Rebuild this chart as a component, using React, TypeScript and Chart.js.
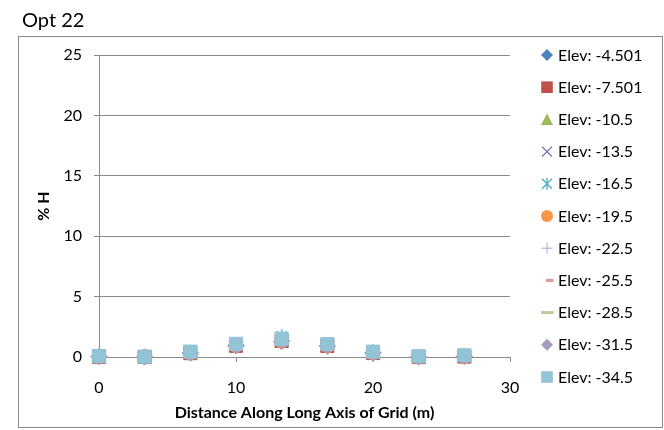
import React, { useEffect, useRef } from 'react';
import { Chart, registerables } from 'chart.js';

Chart.register(...registerables);

const chartTitle = 'Opt 22';
const xAxisTitle = 'Distance Along Long Axis of Grid (m)';
const yAxisTitle = '% H';

const distances = [0, 3.333, 6.667, 10, 13.333, 16.667, 20, 23.333, 26.667];

const seriesLabels = [
  'Elev: -4.501', 'Elev: -7.501', 'Elev: -10.5', 'Elev: -13.5', 'Elev: -16.5', 'Elev: -19.5',
  'Elev: -22.5', 'Elev: -25.5', 'Elev: -28.5', 'Elev: -31.5', 'Elev: -34.5',
];

const elev4501 = [0.03, 0.0, 0.33, 0.95, 1.3, 0.9, 0.35, 0.0, 0.05];
const elev7501 = [0.02, 0.0, 0.32, 0.93, 1.33, 0.92, 0.33, 0.0, 0.04];
const elev105 = [0.04, 0.01, 0.36, 0.98, 1.42, 0.97, 0.37, 0.01, 0.07];
const elev135 = [0.05, 0.01, 0.38, 1.0, 1.6, 1.0, 0.38, 0.02, 0.08];
const elev165 = [0.06, 0.02, 0.4, 1.03, 1.72, 1.02, 0.4, 0.02, 0.1];
const elev195 = [0.0, 0.0, 0.3, 0.9, 1.25, 0.88, 0.3, 0.0, 0.02];
const elev225 = [0.05, 0.02, 0.4, 1.05, 1.65, 1.05, 0.41, 0.03, 0.1];
const elev255 = [0.02, 0.0, 0.3, 0.92, 1.3, 0.9, 0.3, 0.0, 0.03];
const elev285 = [0.03, 0.0, 0.33, 0.95, 1.35, 0.93, 0.33, 0.0, 0.05];
const elev315 = [0.02, 0.0, 0.32, 0.92, 1.3, 0.9, 0.32, 0.0, 0.04];
const elev345 = [0.08, 0.03, 0.44, 1.09, 1.5, 1.07, 0.44, 0.06, 0.14];

const seriesValues = [
  elev4501, elev7501, elev105, elev135, elev165, elev195,
  elev225, elev255, elev285, elev315, elev345,
];

const seriesColors = [
  '#4F81BD', '#C0504D', '#9BBB59', '#8064A2', '#4BACC6', '#F79646',
  '#95AED6', '#D99694', '#B9CD96', '#A99BBD', '#93C3D6',
];

const seriesStyles = [
  'rectRot', 'rect', 'triangle', 'crossRot', 'star', 'circle',
  'cross', 'line', 'line', 'rectRot', 'rect',
];

const FONT = 'Lato';

function styleRadius(style: string, i: number): number {
  switch (style) {
    case 'rect': return 9.3;
    case 'rectRot': return 8;
    case 'triangle': return 8;
    case 'crossRot': return 7;
    case 'star': return 7;
    case 'circle': return 6.5;
    case 'cross': return 7;
    case 'line': return i === 7 ? 3.5 : 6;
    default: return 7;
  }
}

function drawLegendMarker(ctx: CanvasRenderingContext2D, style: string, color: string, cx: number, cy: number, i: number) {
  ctx.save();
  ctx.fillStyle = color;
  ctx.strokeStyle = color;
  ctx.lineWidth = 1.3;
  ctx.beginPath();
  switch (style) {
    case 'rectRot':
      ctx.moveTo(cx, cy - 6); ctx.lineTo(cx + 6, cy); ctx.lineTo(cx, cy + 6); ctx.lineTo(cx - 6, cy);
      ctx.closePath(); ctx.fill();
      break;
    case 'rect':
      ctx.fillRect(cx - 5.8, cy - 5.8, 11.6, 11.6);
      break;
    case 'triangle':
      ctx.moveTo(cx, cy - 6); ctx.lineTo(cx + 6, cy + 5.5); ctx.lineTo(cx - 6, cy + 5.5);
      ctx.closePath(); ctx.fill();
      break;
    case 'crossRot':
      ctx.moveTo(cx - 5, cy - 5); ctx.lineTo(cx + 5, cy + 5);
      ctx.moveTo(cx + 5, cy - 5); ctx.lineTo(cx - 5, cy + 5);
      ctx.stroke();
      break;
    case 'star':
      ctx.moveTo(cx - 5, cy - 5); ctx.lineTo(cx + 5, cy + 5);
      ctx.moveTo(cx + 5, cy - 5); ctx.lineTo(cx - 5, cy + 5);
      ctx.moveTo(cx, cy - 6); ctx.lineTo(cx, cy + 6);
      ctx.stroke();
      break;
    case 'circle':
      ctx.arc(cx, cy, 6, 0, Math.PI * 2); ctx.fill();
      break;
    case 'cross':
      ctx.lineWidth = 1;
      ctx.moveTo(cx - 5.5, cy); ctx.lineTo(cx + 5.5, cy);
      ctx.moveTo(cx, cy - 5.5); ctx.lineTo(cx, cy + 5.5);
      ctx.stroke();
      break;
    case 'line':
      if (i === 7) ctx.fillRect(cx - 1, cy - 1.5, 7.5, 3);
      else ctx.fillRect(cx - 6, cy - 1.5, 12.5, 3);
      break;
  }
  ctx.restore();
}

const framePlugin = {
  id: 'frameAndLegend',
  beforeDraw(chart: any) {
    const ctx = chart.ctx as CanvasRenderingContext2D;
    ctx.save();
    ctx.fillStyle = '#ffffff';
    ctx.fillRect(0, 0, chart.width, chart.height);
    ctx.strokeStyle = '#8a8a8a';
    ctx.lineWidth = 1;
    ctx.strokeRect(18.5, 36.5, chart.width - 20, chart.height - 39);
    ctx.restore();
  },
  afterDraw(chart: any) {
    const ctx = chart.ctx as CanvasRenderingContext2D;
    const area = chart.chartArea;
    const markerX = area.right + 37;
    const textX = area.right + 48;
    ctx.save();
    ctx.font = `16px ${FONT}`;
    ctx.textBaseline = 'middle';
    ctx.textAlign = 'left';
    seriesLabels.forEach((label, i) => {
      const cy = area.top + i * 32.2;
      drawLegendMarker(ctx, seriesStyles[i], seriesColors[i], markerX, cy, i);
      ctx.fillStyle = '#000000';
      ctx.fillText(label, textX, cy + 0.5);
    });
    ctx.restore();
  },
};

export default function App() {
  const canvasRef = useRef<HTMLCanvasElement | null>(null);

  useEffect(() => {
    if (!canvasRef.current) return;
    const datasets = seriesLabels.map((label, i) => {
      const style = seriesStyles[i];
      const stroked = style === 'crossRot' || style === 'star' || style === 'cross' || style === 'line';
      return {
        label,
        data: distances.map((d, j) => ({ x: d, y: seriesValues[i][j] })),
        showLine: false,
        clip: false,
        pointStyle: style,
        pointRadius: styleRadius(style, i),
        pointHoverRadius: styleRadius(style, i),
        backgroundColor: seriesColors[i],
        borderColor: seriesColors[i],
        pointBorderWidth: style === 'line' ? 3 : stroked ? 1.5 : 1,
        order: seriesLabels.length - 1 - i,
      };
    });

    const chart = new Chart(canvasRef.current, {
      type: 'scatter',
      data: { datasets },
      plugins: [framePlugin],
      options: {
        animation: false,
        responsive: false,
        devicePixelRatio: 1,
        layout: { padding: { left: 22, right: 154, top: 0, bottom: 4 } },
        plugins: {
          legend: { display: false },
          tooltip: { enabled: false },
          title: {
            display: true,
            text: chartTitle,
            align: 'start',
            color: '#000000',
            font: { family: FONT, size: 20, weight: 'normal', lineHeight: 1.2 },
            padding: { top: 9, bottom: 22 },
          },
        },
        scales: {
          x: {
            type: 'linear',
            min: 0,
            max: 30,
            ticks: { stepSize: 10, padding: 16, color: '#000000', font: { family: FONT, size: 16 } },
            grid: { drawOnChartArea: false, drawTicks: true, tickLength: 5, color: '#8a8a8a' },
            border: { color: '#8a8a8a' },
            title: {
              display: true,
              text: xAxisTitle,
              color: '#000000',
              font: { family: FONT, size: 16, weight: 'bold', lineHeight: 1.2 },
              padding: { top: 0, bottom: 4 },
            },
            afterFit: (s: any) => { s.height = 69; },
          },
          y: {
            min: 0,
            max: 25,
            ticks: { stepSize: 5, padding: 12, color: '#000000', font: { family: FONT, size: 16 } },
            grid: { drawOnChartArea: true, drawTicks: true, tickLength: 5, color: '#8a8a8a' },
            border: { color: '#8a8a8a' },
            title: {
              display: true,
              text: yAxisTitle,
              color: '#000000',
              font: { family: FONT, size: 16, weight: 'bold', lineHeight: 1.2 },
              padding: { top: 12, bottom: 0 },
            },
            afterFit: (s: any) => { s.width = 77; },
          },
        },
      },
    } as any);

    return () => { chart.destroy(); };
  }, []);

  return (
    <div style={{ position: 'fixed', left: 0, top: 0, width: 664, height: 430, background: '#ffffff' }}>
      <canvas ref={canvasRef} width={664} height={430} style={{ display: 'block', width: 664, height: 430 }} />
    </div>
  );
}
